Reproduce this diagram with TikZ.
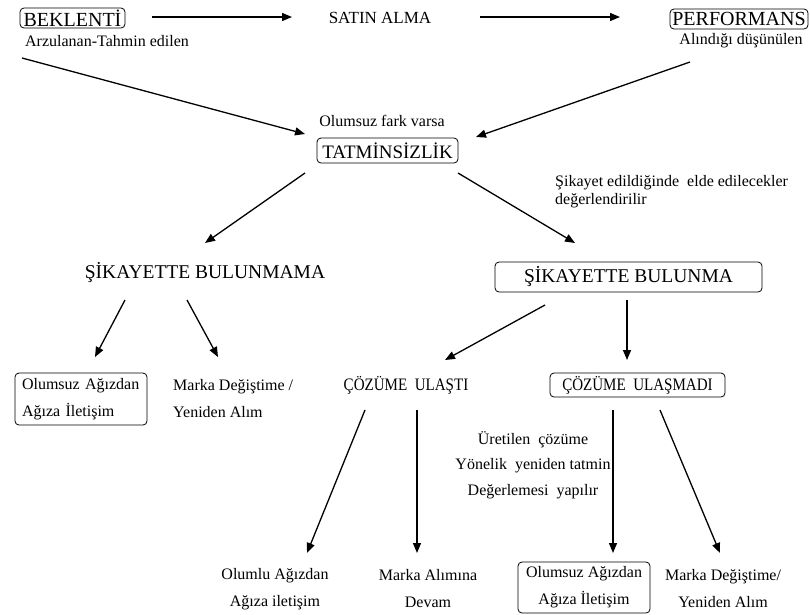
\documentclass[tikz,border=0pt]{standalone}
\usepackage{fontspec}
\setmainfont{Liberation Serif}
\usetikzlibrary{arrows.meta}
\tikzset{
  fbig/.style={font=\fontsize{20}{24}\selectfont},
  fmid/.style={font=\fontsize{17}{20}\selectfont},
  fcz/.style={font=\fontsize{17.5}{20}\selectfont\addfontfeature{FakeStretch=0.86}},
  fsm/.style={font=\fontsize{16}{27}\selectfont},
  fnote/.style={font=\fontsize{16}{18}\selectfont},
  fur/.style={font=\fontsize{16}{25.5}\selectfont},
  rbox/.style={draw, rounded corners=4pt, line width=0.8pt, inner sep=0pt},
  txt/.style={inner sep=0pt},
  arr/.style={line width=1.3pt, -{Triangle[length=10pt,width=8pt]}}
}
\begin{document}
\begin{tikzpicture}[x=1pt,y=-1pt]
\useasboundingbox (0,0) rectangle (810,614);
% top row
\node[rbox,fbig,minimum width=105,minimum height=20] (bek) at (72.5,18) {BEKLENTİ};
\node[txt,fsm] (arz) at (107,41) {Arzulanan-Tahmin edilen};
\node[txt,fmid] (satin) at (380,18) {SATIN ALMA};
\node[rbox,fbig,minimum width=138,minimum height=20] (perf) at (739,19) {PERFORMANS};
\node[txt,fsm] (alin) at (741,41) {Alındığı düşünülen};
% tatminsizlik
\node[txt,fsm] (fark) at (382,121) {Olumsuz fark varsa};
\node[rbox,font=\fontsize{19}{22}\selectfont,minimum width=141,minimum height=25] (tat) at (387.5,150.5) {TATMİNSİZLİK};
\node[txt,fnote,align=left,anchor=west] (note) at (555,192) {Şikayet edildiğinde\ \ elde edilecekler\\değerlendirilir};
% sikayet
\node[txt,font=\fontsize{19.5}{22}\selectfont] (simama) at (205,273) {ŞİKAYETTE BULUNMAMA};
\node[rbox,font=\fontsize{19.5}{22}\selectfont,minimum width=267,minimum height=30] (sima) at (628.5,277) {ŞİKAYETTE BULUNMA};
% middle row
\node[rbox,fsm,align=left,minimum width=132,minimum height=52,text width=118] (olm1) at (81,399) {Olumsuz Ağızdan\\Ağıza İletişim};
\node[txt,fsm,align=left,anchor=west] (mdeg1) at (173,399) {Marka Değiştime /\\Yeniden Alım};
\node[txt,fcz] (cu) at (406,385) {ÇÖZÜME\ \ ULAŞTI};
\node[rbox,fcz,minimum width=175,minimum height=24] (cum) at (637.5,385) {ÇÖZÜME\ \ ULAŞMADI};
\node[txt,fur,align=center] (uret) at (533,465) {Üretilen\ \ çözüme\\Yönelik\ \ yeniden tatmin\\Değerlemesi\ \ yapılır};
% bottom row
\node[txt,fsm,align=center] (olml) at (275,589) {Olumlu Ağızdan\\Ağıza iletişim};
\node[txt,fsm,align=center] (mal) at (428,589) {Marka Alımına\\Devam};
\node[rbox,fsm,align=center,minimum width=132,minimum height=51] (olm2) at (584,587.5) {Olumsuz Ağızdan\\Ağıza İletişim};
\node[txt,fsm,align=center] (mdeg2) at (723,589) {Marka Değiştime/\\Yeniden Alım};
% arrow end points
\coordinate (a1s) at (152,17);  \coordinate (a1e) at (292,17);
\coordinate (a2s) at (480,17);  \coordinate (a2e) at (620,17);
\coordinate (a3s) at (22,58);   \coordinate (a3e) at (305,134);
\coordinate (a4s) at (690,62);  \coordinate (a4e) at (476,137);
\coordinate (a5s) at (305,173); \coordinate (a5e) at (205,243);
\coordinate (a6s) at (458,173); \coordinate (a6e) at (575,243);
\coordinate (a7s) at (125,300); \coordinate (a7e) at (95,357);
\coordinate (a8s) at (187,300); \coordinate (a8e) at (218,357);
\coordinate (a9s) at (545,305); \coordinate (a9e) at (445,360);
\coordinate (a10s) at (627,300); \coordinate (a10e) at (627,360);
\coordinate (a11s) at (365,410); \coordinate (a11e) at (307,553);
\coordinate (a12s) at (417,410); \coordinate (a12e) at (417,553);
\coordinate (a13s) at (613,410); \coordinate (a13e) at (613,553);
\coordinate (a14s) at (660,410); \coordinate (a14e) at (720,553);
\foreach \i in {1,...,14} \draw[arr] (a\i s) -- (a\i e);
\end{tikzpicture}
\end{document}
